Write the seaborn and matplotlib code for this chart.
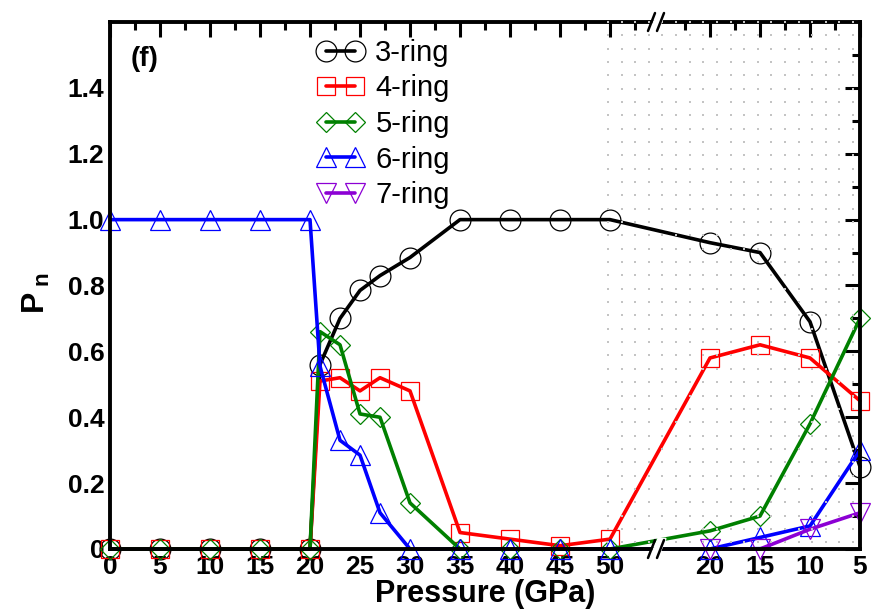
import numpy as np
import pandas as pd
import matplotlib
matplotlib.use("Agg")
import matplotlib.pyplot as plt
import seaborn as sns
from matplotlib.transforms import blended_transform_factory
from matplotlib.ticker import FixedLocator, FixedFormatter

# ---------------- data ----------------
comp_pressure = [0, 5, 10, 15, 20, 21, 23, 25, 27, 30, 35, 40, 45, 50]
decomp_pressure = [20, 15, 10, 5]
ring_names = ["3-ring", "4-ring", "5-ring", "6-ring", "7-ring"]
ring3 = [0, 0, 0, 0, 0, 0.56, 0.70, 0.785, 0.83, 0.885, 1.0, 1.0, 1.0, 1.0, 0.93, 0.90, 0.69, 0.25]
ring4 = [0, 0, 0, 0, 0, 0.51, 0.52, 0.48, 0.52, 0.48, 0.05, 0.03, 0.01, 0.03, 0.58, 0.62, 0.58, 0.45]
ring5 = [0, 0, 0, 0, 0, 0.66, 0.62, 0.41, 0.40, 0.14, 0, 0, 0, 0, 0.055, 0.10, 0.38, 0.70]
ring6 = [1, 1, 1, 1, 1, 0.555, 0.33, 0.285, 0.11, 0, 0, 0, 0, 0, 0, 0.035, 0.07, 0.30]
ring7 = [np.nan] * 14 + [0, 0, 0.06, 0.11]
comp_ticks = [0, 5, 10, 15, 20, 25, 30, 35, 40, 45, 50]
decomp_ticks = [20, 15, 10, 5]
y_ticks = [0, 0.2, 0.4, 0.6, 0.8, 1.0, 1.2, 1.4]
y_tick_labels = ["0", "0.2", "0.4", "0.6", "0.8", "1.0", "1.2", "1.4"]

colors = ["black", "#ff0000", "#008000", "#0000ff", "#8c00d4"]
markers = ["o", "s", "D", "^", "v"]
msizes = [15, 13, 10.5, 14, 14]

sns.set_style("white")
plt.rcParams["font.family"] = ["Liberation Sans", "DejaVu Sans"]
plt.rcParams["mathtext.fontset"] = "custom"
plt.rcParams["mathtext.rm"] = "Liberation Sans:bold"
plt.rcParams["mathtext.it"] = "Liberation Sans:bold"
plt.rcParams["mathtext.bf"] = "Liberation Sans:bold"
for key in ("text.color", "axes.labelcolor", "xtick.color", "ytick.color",
            "axes.edgecolor"):
    plt.rcParams[key] = "black"

fig = plt.figure(figsize=(8.72, 6.14), dpi=100)
ax = fig.add_axes([110 / 872, 1 - 549 / 614, 750 / 872, 527 / 614])

DECOMP_OFFSET = 80  # decompression branch drawn at position 80 - pressure
x_pos = comp_pressure + [DECOMP_OFFSET - p for p in decomp_pressure]

handles = []
for name, vals, c, m, ms in zip(ring_names, [ring3, ring4, ring5, ring6, ring7],
                                colors, markers, msizes):
    df = pd.DataFrame({"x": x_pos, "y": vals}).dropna()
    sns.lineplot(data=df, x="x", y="y", ax=ax, color=c, marker=m, markersize=ms,
                 markerfacecolor="none", markeredgecolor=c, markeredgewidth=0.9,
                 linewidth=2.6, sort=False, estimator=None, legend=False,
                 clip_on=False)
    handles.append(ax.lines[-1])

ax.set_xlim(0, 75)
ax.set_ylim(0, 1.6)

# ticks
major_x = comp_ticks + [DECOMP_OFFSET - p for p in decomp_ticks]
major_labels = [str(p) for p in comp_ticks] + [str(p) for p in decomp_ticks]
minor_x = [v + 2.5 for v in major_x if v + 2.5 < 75] + [57.5]
ax.xaxis.set_major_locator(FixedLocator(major_x))
ax.xaxis.set_major_formatter(FixedFormatter(major_labels))
ax.xaxis.set_minor_locator(FixedLocator(minor_x))
ax.yaxis.set_major_locator(FixedLocator(y_ticks))
ax.yaxis.set_major_formatter(FixedFormatter(y_tick_labels))
ax.yaxis.set_minor_locator(FixedLocator([v + 0.1 for v in y_ticks]))
ax.tick_params(which="both", direction="in", top=True, right=True, width=2.2,
               labelsize=19, pad=4, colors="black")
ax.tick_params(which="major", length=11)
ax.tick_params(which="minor", length=6)
for lab in ax.get_xticklabels() + ax.get_yticklabels():
    lab.set_fontweight("bold")
for sp in ax.spines.values():
    sp.set_linewidth(2.8)
    sp.set_color("black")
    sp.set_visible(True)

ax.set_xlabel("Pressure (GPa)", fontsize=22, fontweight="bold", labelpad=0)
ax.set_ylabel(r"$\mathregular{P_{\;n}}$", fontsize=23, fontweight="bold")
ax.yaxis.set_label_coords(-0.077, 0.485)

ax.text(0.027, 0.93, "(f)", transform=ax.transAxes, fontsize=20,
        fontweight="bold", va="center", ha="left")

leg = ax.legend(handles, ring_names, loc="upper left", bbox_to_anchor=(0.276, 0.968),
                frameon=False, numpoints=2, handlelength=1.6, handletextpad=0.4,
                labelspacing=0.26, borderpad=0, borderaxespad=0, fontsize=21)

# dotted background of the decompression region
dot_x = np.linspace(49.8, 74.3, 19)
dot_y = 1.6 - np.arange(40) * 0.0405
DX, DY = np.meshgrid(dot_x, dot_y)
ax.scatter(DX.ravel(), DY.ravel(), marker="s", s=4, color="#c4c4c4",
           linewidths=0, zorder=6, clip_on=False)

# axis break marks
trans = blended_transform_factory(ax.transData, ax.transAxes)
for yb in (0.0, 1.0):
    ax.fill([53.9, 54.7, 55.6, 54.8], [yb - 0.02, yb - 0.02, yb + 0.02, yb + 0.02],
            color="white", transform=trans, clip_on=False, zorder=7)
    for x0 in (53.8, 54.7):
        ax.plot([x0, x0 + 0.7], [yb - 0.017, yb + 0.017], color="black", lw=1.8,
                transform=trans, clip_on=False, zorder=8)

fig.savefig("out.png", dpi=100)
